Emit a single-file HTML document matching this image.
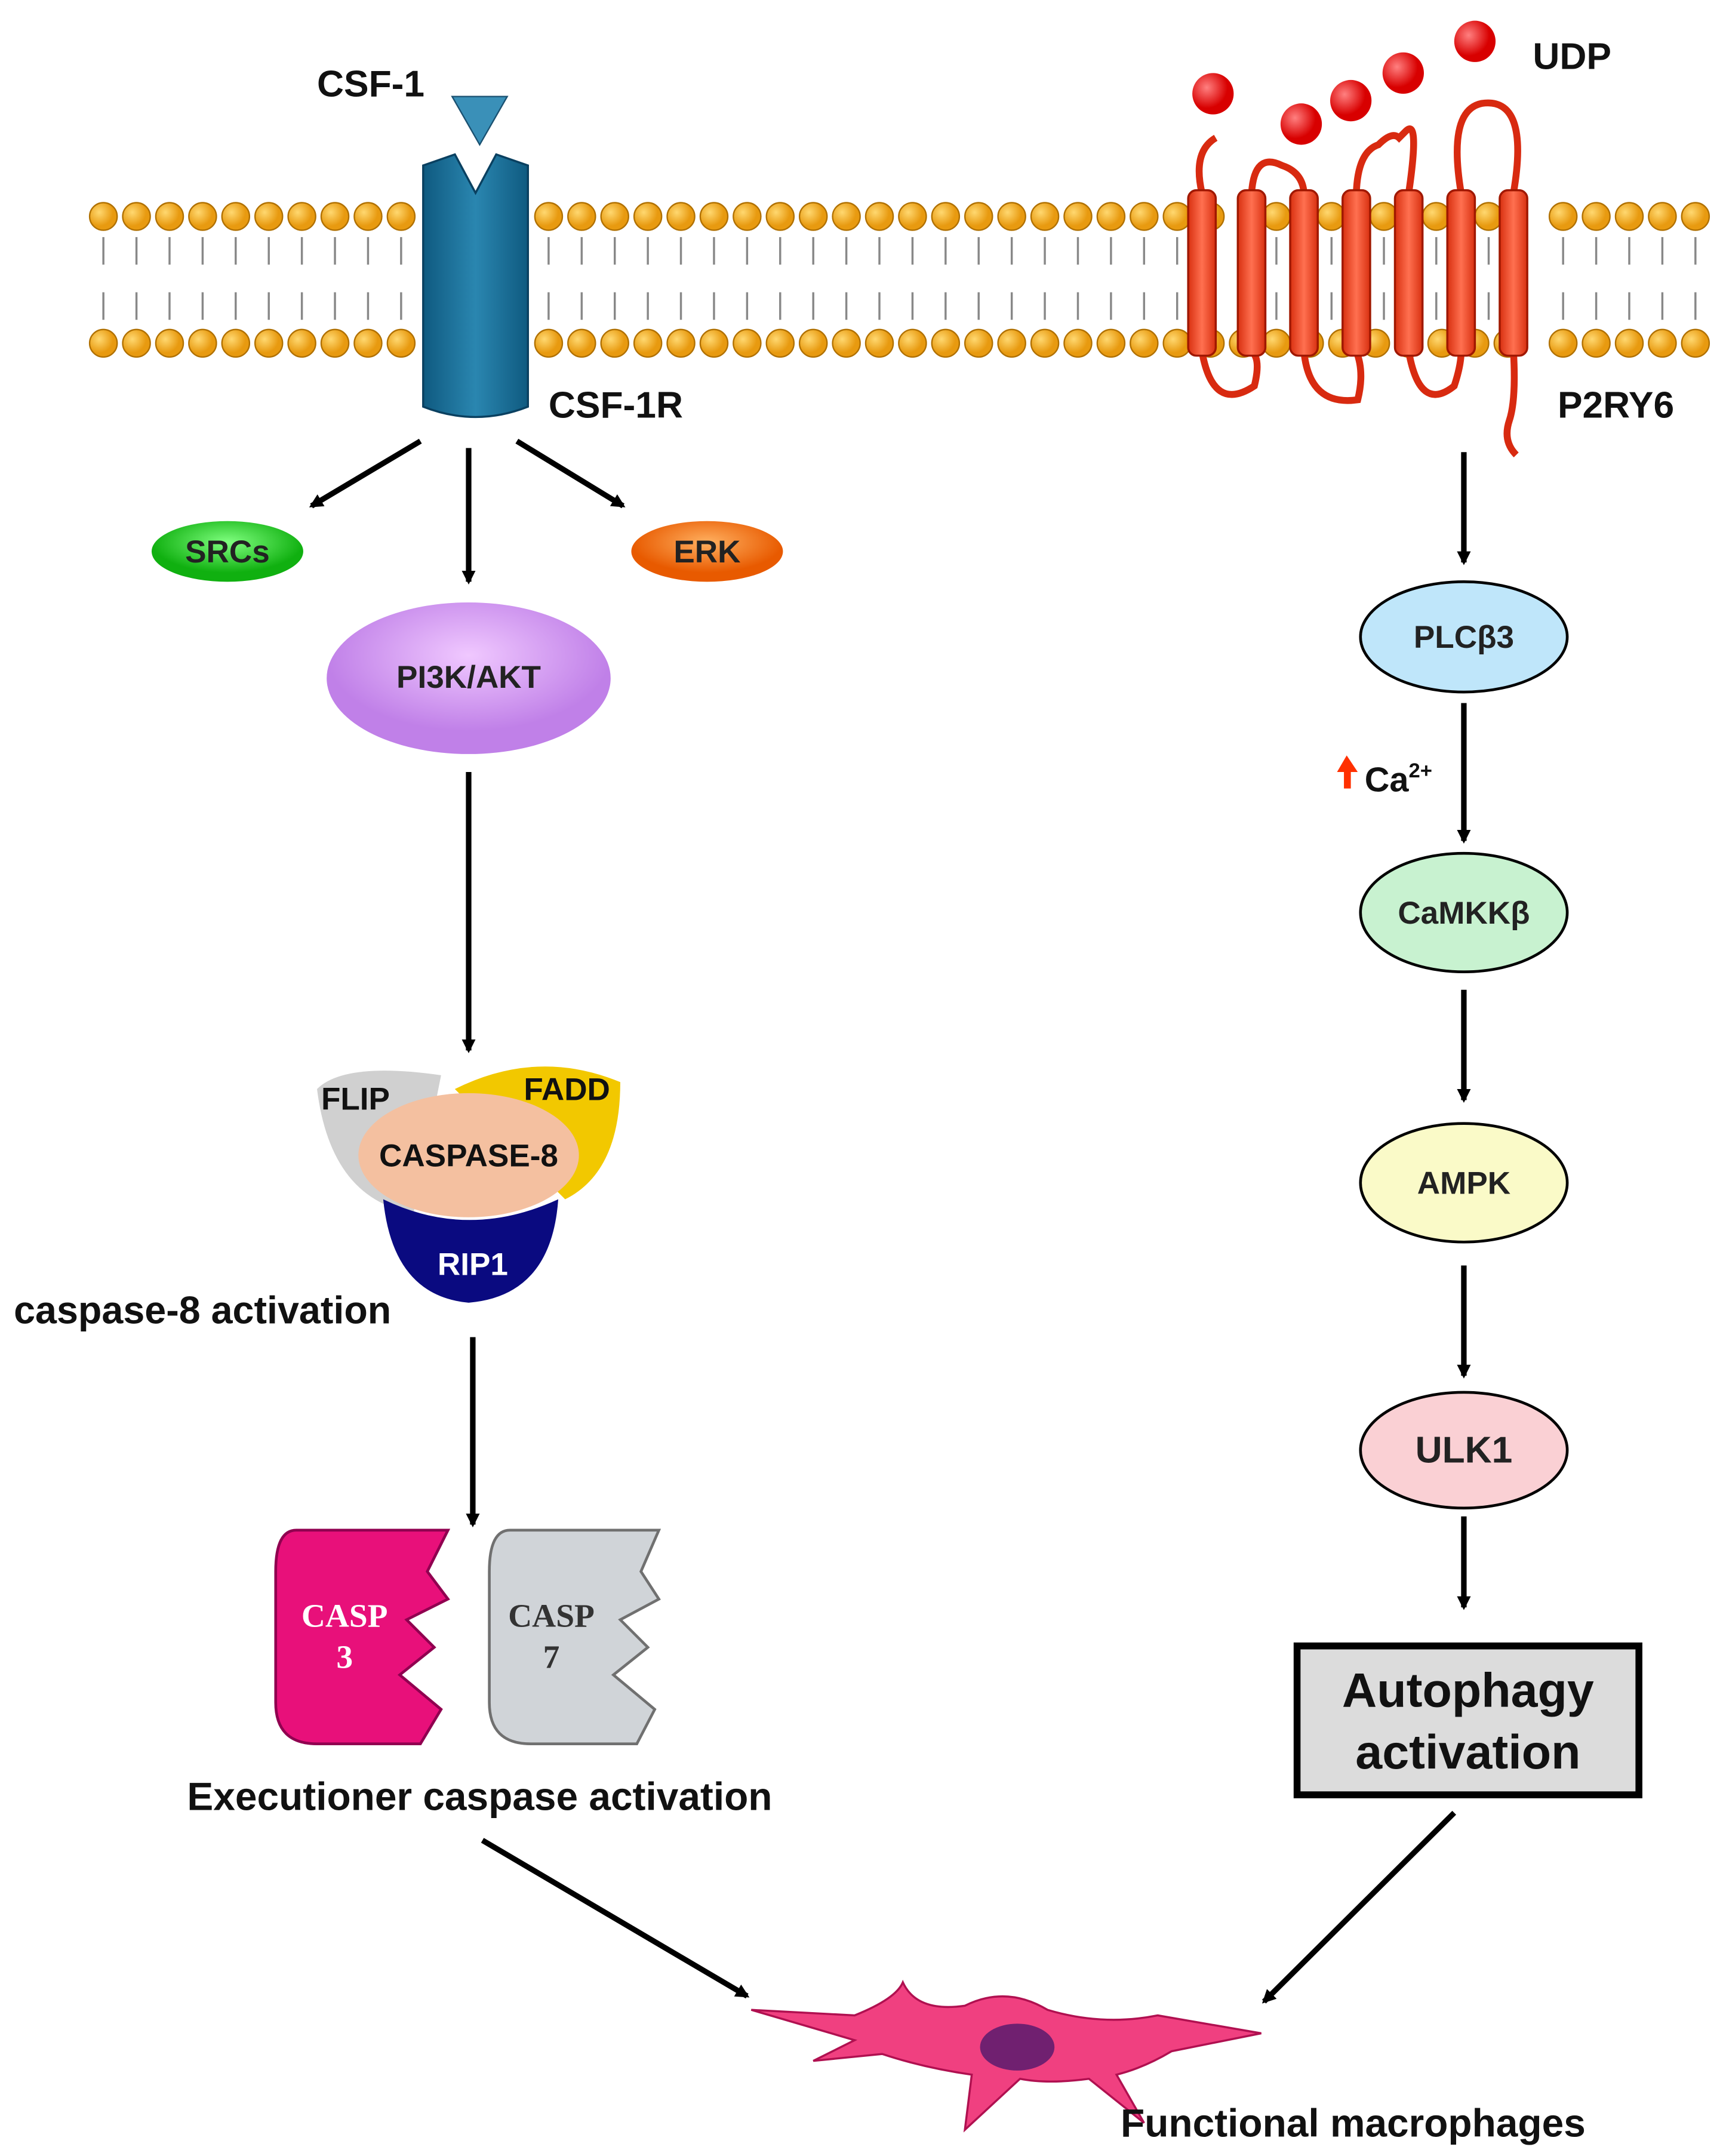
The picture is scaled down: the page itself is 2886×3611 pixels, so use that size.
<!DOCTYPE html>
<html><head><meta charset="utf-8"><style>html,body{margin:0;padding:0;background:#fff}svg{display:block}</style></head>
<body>
<svg width="2886" height="3611" viewBox="0 0 1250 1564" xmlns="http://www.w3.org/2000/svg" font-family="Liberation Sans, sans-serif" font-weight="bold">
<defs>
<marker id="ah" markerWidth="10" markerHeight="10" refX="8" refY="5" orient="auto" markerUnits="userSpaceOnUse"><path d="M0,0 L10,5 L0,10 z" fill="#000"/></marker>
<radialGradient id="head" cx="35%" cy="35%"><stop offset="0" stop-color="#ffd870"/><stop offset="1" stop-color="#e89a10"/></radialGradient>
<radialGradient id="ball" cx="35%" cy="35%"><stop offset="0" stop-color="#ff8080"/><stop offset="1" stop-color="#d80000"/></radialGradient>
<linearGradient id="blue" x1="0" x2="1"><stop offset="0" stop-color="#0f5a80"/><stop offset="0.5" stop-color="#2a86b0"/><stop offset="1" stop-color="#0f5a80"/></linearGradient>
<linearGradient id="red" x1="0" x2="1"><stop offset="0" stop-color="#d83010"/><stop offset="0.5" stop-color="#ff7050"/><stop offset="1" stop-color="#d83010"/></linearGradient>
<radialGradient id="gr" cx="50%" cy="35%"><stop offset="0" stop-color="#80ff80"/><stop offset="1" stop-color="#10b010"/></radialGradient>
<radialGradient id="or" cx="50%" cy="35%"><stop offset="0" stop-color="#ffb060"/><stop offset="1" stop-color="#e85a00"/></radialGradient>
<radialGradient id="pu" cx="50%" cy="35%"><stop offset="0" stop-color="#f0c8ff"/><stop offset="1" stop-color="#c080e8"/></radialGradient>
</defs>
<g stroke="#888" stroke-width="1.5" fill="none">
<path d="M75,172 v20 M99,172 v20 M123,172 v20 M147,172 v20 M171,172 v20 M195,172 v20 M219,172 v20 M243,172 v20 M267,172 v20 M291,172 v20 M398,172 v20 M422,172 v20 M446,172 v20 M470,172 v20 M494,172 v20 M518,172 v20 M542,172 v20 M566,172 v20 M590,172 v20 M614,172 v20 M638,172 v20 M662,172 v20 M686,172 v20 M710,172 v20 M734,172 v20 M758,172 v20 M782,172 v20 M806,172 v20 M830,172 v20 M854,172 v20 M878,172 v20 M926,172 v20 M966,172 v20 M1004,172 v20 M1042,172 v20 M1080,172 v20 M1134,172 v20 M1158,172 v20 M1182,172 v20 M1206,172 v20 M1230,172 v20"/>
<path d="M75,212 v20 M99,212 v20 M123,212 v20 M147,212 v20 M171,212 v20 M195,212 v20 M219,212 v20 M243,212 v20 M267,212 v20 M291,212 v20 M398,212 v20 M422,212 v20 M446,212 v20 M470,212 v20 M494,212 v20 M518,212 v20 M542,212 v20 M566,212 v20 M590,212 v20 M614,212 v20 M638,212 v20 M662,212 v20 M686,212 v20 M710,212 v20 M734,212 v20 M758,212 v20 M782,212 v20 M806,212 v20 M830,212 v20 M854,212 v20 M878,212 v20 M926,212 v20 M966,212 v20 M1004,212 v20 M1042,212 v20 M1080,212 v20 M1134,212 v20 M1158,212 v20 M1182,212 v20 M1206,212 v20 M1230,212 v20"/>
</g>
<g fill="url(#head)" stroke="#b07000" stroke-width="1">
<circle cx="75" cy="157" r="10"/><circle cx="99" cy="157" r="10"/><circle cx="123" cy="157" r="10"/><circle cx="147" cy="157" r="10"/><circle cx="171" cy="157" r="10"/><circle cx="195" cy="157" r="10"/><circle cx="219" cy="157" r="10"/><circle cx="243" cy="157" r="10"/><circle cx="267" cy="157" r="10"/><circle cx="291" cy="157" r="10"/>
<circle cx="398" cy="157" r="10"/><circle cx="422" cy="157" r="10"/><circle cx="446" cy="157" r="10"/><circle cx="470" cy="157" r="10"/><circle cx="494" cy="157" r="10"/><circle cx="518" cy="157" r="10"/><circle cx="542" cy="157" r="10"/><circle cx="566" cy="157" r="10"/><circle cx="590" cy="157" r="10"/><circle cx="614" cy="157" r="10"/><circle cx="638" cy="157" r="10"/><circle cx="662" cy="157" r="10"/><circle cx="686" cy="157" r="10"/><circle cx="710" cy="157" r="10"/><circle cx="734" cy="157" r="10"/><circle cx="758" cy="157" r="10"/><circle cx="782" cy="157" r="10"/><circle cx="806" cy="157" r="10"/><circle cx="830" cy="157" r="10"/><circle cx="854" cy="157" r="10"/><circle cx="1134" cy="157" r="10"/><circle cx="1158" cy="157" r="10"/><circle cx="1182" cy="157" r="10"/><circle cx="1206" cy="157" r="10"/><circle cx="1230" cy="157" r="10"/>
<circle cx="75" cy="249" r="10"/><circle cx="99" cy="249" r="10"/><circle cx="123" cy="249" r="10"/><circle cx="147" cy="249" r="10"/><circle cx="171" cy="249" r="10"/><circle cx="195" cy="249" r="10"/><circle cx="219" cy="249" r="10"/><circle cx="243" cy="249" r="10"/><circle cx="267" cy="249" r="10"/><circle cx="291" cy="249" r="10"/>
<circle cx="398" cy="249" r="10"/><circle cx="422" cy="249" r="10"/><circle cx="446" cy="249" r="10"/><circle cx="470" cy="249" r="10"/><circle cx="494" cy="249" r="10"/><circle cx="518" cy="249" r="10"/><circle cx="542" cy="249" r="10"/><circle cx="566" cy="249" r="10"/><circle cx="590" cy="249" r="10"/><circle cx="614" cy="249" r="10"/><circle cx="638" cy="249" r="10"/><circle cx="662" cy="249" r="10"/><circle cx="686" cy="249" r="10"/><circle cx="710" cy="249" r="10"/><circle cx="734" cy="249" r="10"/><circle cx="758" cy="249" r="10"/><circle cx="782" cy="249" r="10"/><circle cx="806" cy="249" r="10"/><circle cx="830" cy="249" r="10"/><circle cx="854" cy="249" r="10"/><circle cx="878" cy="249" r="10"/><circle cx="902" cy="249" r="10"/><circle cx="926" cy="249" r="10"/><circle cx="950" cy="249" r="10"/><circle cx="974" cy="249" r="10"/><circle cx="998" cy="249" r="10"/><circle cx="1022" cy="249" r="10"/><circle cx="1046" cy="249" r="10"/><circle cx="1070" cy="249" r="10"/><circle cx="1094" cy="249" r="10"/><circle cx="1134" cy="249" r="10"/><circle cx="1158" cy="249" r="10"/><circle cx="1182" cy="249" r="10"/><circle cx="1206" cy="249" r="10"/><circle cx="1230" cy="249" r="10"/>
<circle cx="878" cy="157" r="10"/><circle cx="926" cy="157" r="10"/><circle cx="966" cy="157" r="10"/><circle cx="1004" cy="157" r="10"/><circle cx="1042" cy="157" r="10"/><circle cx="1080" cy="157" r="10"/>
</g>
<path d="M307,120 L330,112 L345,140 L360,112 L383,120 L383,295 Q345,310 307,295 Z" fill="url(#blue)" stroke="#0a4060" stroke-width="1.5"/>
<path d="M328,70 L368,70 L348,105 Z" fill="#3a90b8" stroke="#1a5070"/>
<g fill="none" stroke="#d82a10" stroke-width="5">
<path d="M872,140 Q865,110 882,100"/>
<path d="M872,255 Q880,300 910,280 Q915,260 908,255"/>
<path d="M908,140 Q910,110 930,120 Q945,125 946,140"/>
<path d="M946,255 Q950,295 985,290 Q990,270 984,255"/>
<path d="M984,140 Q985,110 1000,105 Q1010,95 1015,100 L1020,95 Q1030,85 1022,140"/>
<path d="M1022,255 Q1030,300 1055,280 Q1060,265 1060,255"/>
<path d="M1060,140 Q1050,80 1075,75 Q1110,70 1098,140"/>
<path d="M1098,255 Q1100,290 1095,305 Q1090,320 1100,330"/>
</g>
<g fill="url(#red)" stroke="#a01800" stroke-width="1.5">
<rect x="862" y="138" width="20" height="120" rx="6"/><rect x="898" y="138" width="20" height="120" rx="6"/><rect x="936" y="138" width="20" height="120" rx="6"/><rect x="974" y="138" width="20" height="120" rx="6"/><rect x="1012" y="138" width="20" height="120" rx="6"/><rect x="1050" y="138" width="20" height="120" rx="6"/><rect x="1088" y="138" width="20" height="120" rx="6"/>
</g>
<g fill="url(#ball)"><circle cx="880" cy="68" r="15"/><circle cx="944" cy="90" r="15"/><circle cx="980" cy="73" r="15"/><circle cx="1018" cy="53" r="15"/><circle cx="1070" cy="30" r="15"/></g>
<g font-size="27" fill="#111">
<text x="230" y="70">CSF-1</text><text x="398" y="303">CSF-1R</text><text x="1112" y="50">UDP</text><text x="1130" y="303">P2RY6</text>
</g>
<g stroke="#000" stroke-width="4" marker-end="url(#ah)" fill="none">
<path d="M305,320 L226,367"/><path d="M340,325 L340,422"/><path d="M375,320 L452,367"/>
<path d="M340,560 L340,762"/><path d="M343,970 L343,1106"/>
<path d="M350,1335 L542,1448"/>
<path d="M1062,328 L1062,408"/><path d="M1062,510 L1062,610"/><path d="M1062,718 L1062,798"/><path d="M1062,918 L1062,998"/><path d="M1062,1100 L1062,1166"/>
<path d="M1055,1315 L917,1452"/>
</g>
<ellipse cx="165" cy="400" rx="55" ry="22" fill="url(#gr)"/>
<ellipse cx="513" cy="400" rx="55" ry="22" fill="url(#or)"/>
<ellipse cx="340" cy="492" rx="103" ry="55" fill="url(#pu)"/>
<g font-size="23" text-anchor="middle" fill="#222">
<text x="165" y="408">SRCs</text><text x="513" y="408">ERK</text><text x="340" y="499">PI3K/AKT</text>
</g>
<path d="M230,790 Q250,770 320,780 L300,880 Q240,870 230,790 Z" fill="#d0d0d0"/>
<path d="M330,790 Q390,760 450,785 Q450,850 410,870 Z" fill="#f2c800"/>
<path d="M278,870 Q340,900 405,870 Q400,940 340,945 Q285,940 278,870 Z" fill="#0a0a80"/>
<ellipse cx="340" cy="838" rx="80" ry="45" fill="#f4c0a0"/>
<g font-size="23" fill="#111"><text x="233" y="805">FLIP</text><text x="380" y="798">FADD</text><text x="340" y="846" text-anchor="middle">CASPASE-8</text><text x="343" y="925" text-anchor="middle" fill="#fff">RIP1</text></g>
<text x="10" y="960" font-size="28" fill="#111">caspase-8 activation</text>
<path d="M215,1110 L325,1110 L310,1140 L325,1160 L295,1175 L315,1195 L290,1215 L320,1240 L305,1265 L230,1265 Q200,1265 200,1235 L200,1140 Q200,1110 215,1110 Z" fill="#e8107a" stroke="#900050" stroke-width="2"/>
<path d="M370,1110 L478,1110 L465,1140 L478,1160 L450,1175 L470,1195 L445,1215 L475,1240 L462,1265 L385,1265 Q355,1265 355,1235 L355,1140 Q355,1110 370,1110 Z" fill="#d0d4d8" stroke="#707070" stroke-width="2"/>
<g font-size="24" fill="#fff" font-family="Liberation Serif, serif" text-anchor="middle"><text x="250" y="1180">CASP</text><text x="250" y="1210">3</text></g>
<g font-size="24" fill="#333" font-family="Liberation Serif, serif" text-anchor="middle"><text x="400" y="1180">CASP</text><text x="400" y="1210">7</text></g>
<text x="348" y="1313" font-size="28.5" fill="#111" text-anchor="middle">Executioner caspase activation</text>
<path d="M545,1458 L620,1462 Q650,1450 655,1438 Q665,1460 700,1455 Q730,1440 760,1458 Q800,1470 840,1462 L915,1475 L850,1488 Q830,1500 810,1505 L830,1540 L790,1508 Q760,1512 740,1508 L700,1545 L705,1505 Q670,1500 640,1490 L590,1495 L620,1480 Z" fill="#f04080" stroke="#b01050" stroke-width="1.5"/>
<ellipse cx="738" cy="1485" rx="27" ry="17" fill="#702070"/>
<text x="813" y="1550" font-size="28.5" fill="#111">Functional macrophages</text>
<g stroke="#000" stroke-width="2">
<ellipse cx="1062" cy="462" rx="75" ry="40" fill="#bfe6fa"/>
<ellipse cx="1062" cy="662" rx="75" ry="43" fill="#c8f2d0"/>
<ellipse cx="1062" cy="858" rx="75" ry="43" fill="#fafac8"/>
<ellipse cx="1062" cy="1052" rx="75" ry="42" fill="#fad0d4"/>
</g>
<g font-size="23" text-anchor="middle" fill="#222"><text x="1062" y="470">PLCβ3</text><text x="1062" y="670">CaMKKβ</text><text x="1062" y="866">AMPK</text><text x="1062" y="1061" font-size="27">ULK1</text></g>
<path d="M977,548 L970,560 L975,560 L975,572 L980,572 L980,560 L985,560 Z" fill="#ff3000"/>
<text x="990" y="574" font-size="25" fill="#111">Ca<tspan font-size="15" dy="-10">2+</tspan></text>
<rect x="941" y="1194" width="248" height="108" fill="#dcdcdc" stroke="#000" stroke-width="5"/>
<g font-size="35" text-anchor="middle" fill="#111"><text x="1065" y="1238">Autophagy</text><text x="1065" y="1283">activation</text></g>
</svg>
</body></html>
